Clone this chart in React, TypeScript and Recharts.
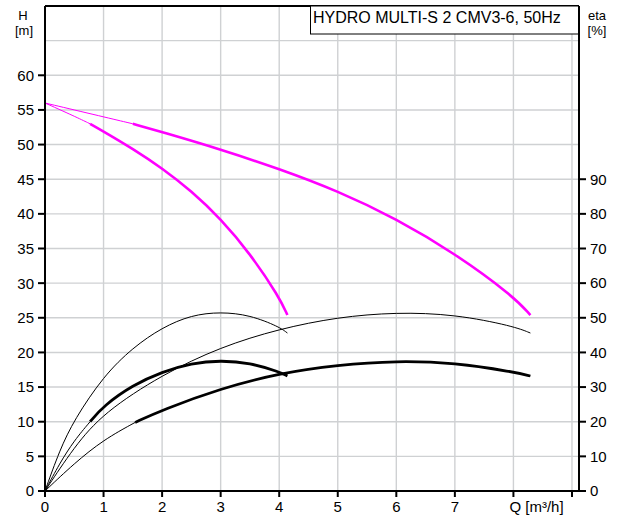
import React from 'react';
import { ComposedChart, Line, XAxis, YAxis, CartesianGrid, ReferenceLine } from 'recharts';

const FONT = '"Liberation Sans", Arial, Helvetica, sans-serif';
const MAGENTA = '#ff00ff';

// axis ticks
const qTicks = [0, 1, 2, 3, 4, 5, 6, 7, 8, 9];
const hTicks = [0, 5, 10, 15, 20, 25, 30, 35, 40, 45, 50, 55, 60, 65, 70];
const etaTicks = [0, 10, 20, 30, 40, 50, 60, 70, 80, 90];

// head H [m], one pump
const head1Q = [0, 0.5, 0.77, 1, 1.5, 2, 2.5, 3, 3.5, 4, 4.14];
const head1H = [56, 54.1, 53.0, 51.9, 49.4, 46.6, 43.3, 39.3, 34.3, 28.0, 25.4];
// head H [m], two pumps
const head2Q = [0, 1, 1.5, 2, 3, 4, 5, 6, 7, 8, 8.29];
const head2H = [56, 54.0, 53.0, 51.8, 49.3, 46.5, 43.3, 39.3, 34.3, 28.1, 25.4];

// eta [%], pump, one and two pumps (thin)
const eta1Q = [0, 0.25, 0.5, 1, 1.5, 2, 2.5, 3, 3.5, 4, 4.14];
const eta1 = [0, 11.8, 20.6, 33.2, 41.4, 47.2, 50.8, 51.7, 50.8, 47.4, 45.6];
const eta2Q = [0, 0.5, 1, 2, 3, 4, 5, 6, 7, 8, 8.29];
const eta2 = [0, 12.8, 22.6, 33.6, 41.6, 46.8, 50.2, 51.6, 51, 47.6, 45.6];

// eta [%], total, one and two pumps (thick part = operating range)
const etaTot1Q = [0, 0.25, 0.5, 0.77, 1, 1.5, 2, 2.5, 3, 3.5, 4, 4.14];
const etaTot1 = [0, 8, 14.6, 20, 24.6, 30.6, 34.4, 36.9, 37.7, 37, 34.4, 33.2];
const etaTot2Q = [0, 0.5, 1, 1.54, 2, 3, 4, 5, 6, 7, 8, 8.29];
const etaTot2 = [0, 8, 14.8, 19.8, 23.4, 29.6, 34, 36.4, 37.6, 37, 34.4, 33.2];

type Curve = { id: string; q: number[]; v: number[]; axis: string; color: string; from: number | null };

const curves: Curve[] = [
  { id: 'head1', q: head1Q, v: head1H, axis: 'h', color: MAGENTA, from: 0.77 },
  { id: 'head2', q: head2Q, v: head2H, axis: 'h', color: MAGENTA, from: 1.5 },
  { id: 'eta1', q: eta1Q, v: eta1, axis: 'eta', color: '#000', from: null },
  { id: 'eta2', q: eta2Q, v: eta2, axis: 'eta', color: '#000', from: null },
  { id: 'etaTot1', q: etaTot1Q, v: etaTot1, axis: 'eta', color: '#000', from: 0.77 },
  { id: 'etaTot2', q: etaTot2Q, v: etaTot2, axis: 'eta', color: '#000', from: 1.54 },
];

const HTick = (props: any) => {
  const { x, y, payload } = props;
  if (payload.value > 60) return <g />;
  return (
    <g>
      <line x1={x + 4} x2={x + 11} y1={y} y2={y} stroke="#000" strokeWidth={2} />
      <text x={x} y={y} dy="0.36em" textAnchor="end" fontSize={15} fill="#000" fontFamily={FONT}>
        {payload.value}
      </text>
    </g>
  );
};

const QTick = (props: any) => {
  const { x, y, payload } = props;
  if (payload.value === 9) return <g />;
  const isUnit = payload.value === 8;
  return (
    <text
      x={isUnit ? x - 4 : x}
      y={y}
      dy="0.71em"
      textAnchor={isUnit ? 'start' : 'middle'}
      fontSize={15}
      fill="#000"
      fontFamily={FONT}
    >
      {isUnit ? 'Q [m³/h]' : payload.value}
    </text>
  );
};

export default function App() {
  const lines: React.ReactNode[] = [];
  curves.forEach((c) => {
    const pts = c.q.map((q, i) => ({ q, v: c.v[i] }));
    const thin = c.from === null ? pts : pts.filter((p) => p.q <= c.from!);
    lines.push(
      <Line
        key={c.id + '-thin'}
        data={thin}
        dataKey="v"
        yAxisId={c.axis}
        type="basis"
        stroke={c.color}
        strokeWidth={1}
        dot={false}
        activeDot={false}
        isAnimationActive={false}
      />
    );
    if (c.from !== null) {
      lines.push(
        <Line
          key={c.id + '-thick'}
          data={pts.filter((p) => p.q >= c.from!)}
          dataKey="v"
          yAxisId={c.axis}
          type="basis"
          stroke={c.color}
          strokeWidth={c.axis === 'h' ? 2.6 : 2.8}
          dot={false}
          activeDot={false}
          isAnimationActive={false}
        />
      );
    }
  });

  return (
    <div style={{ position: 'absolute', left: 0, top: 0, width: 624, height: 518, background: '#fff' }}>
      <ComposedChart width={624} height={518} margin={{ top: 6, right: 5, left: 5, bottom: 0 }}>
        <CartesianGrid yAxisId="h" stroke="#cfd1d3" strokeWidth={1.4} />
        <XAxis
          dataKey="q"
          type="number"
          domain={[0, 9.12]}
          ticks={qTicks}
          height={27}
          allowDataOverflow
          axisLine={{ stroke: '#000', strokeWidth: 2 }}
          tickLine={{ stroke: '#000', strokeWidth: 2 }}
          tickSize={6}
          tickMargin={4}
          tick={<QTick />}
        />
        <YAxis
          yAxisId="h"
          type="number"
          domain={[0, 70]}
          ticks={hTicks}
          width={40}
          allowDataOverflow
          axisLine={{ stroke: '#000', strokeWidth: 2 }}
          tickLine={false}
          tickSize={7}
          tickMargin={4}
          tick={<HTick />}
        />
        <YAxis
          yAxisId="eta"
          orientation="right"
          type="number"
          domain={[0, 140]}
          ticks={etaTicks}
          width={40}
          allowDataOverflow
          axisLine={{ stroke: '#000', strokeWidth: 2 }}
          tickLine={{ stroke: '#000', strokeWidth: 2 }}
          tickSize={7}
          tickMargin={4}
          tick={{ fill: '#000', fontSize: 15, fontFamily: FONT }}
        />
        <ReferenceLine yAxisId="h" y={70} stroke="#000" strokeWidth={2} />
        {lines}
      </ComposedChart>
      <svg
        width={624}
        height={518}
        style={{ position: 'absolute', left: 0, top: 0, pointerEvents: 'none' }}
        fontFamily={FONT}
      >
        <text x={23} y={19.5} textAnchor="middle" fontSize={13} fill="#000">H</text>
        <text x={24} y={34.5} textAnchor="middle" fontSize={13} fill="#000">[m]</text>
        <text x={597} y={20} textAnchor="middle" fontSize={13} fill="#000">eta</text>
        <text x={597} y={35} textAnchor="middle" fontSize={13} fill="#000">[%]</text>
        <rect x={310.5} y={6} width={268} height={28} fill="#fff" stroke="#000" strokeWidth={1} />
        <text x={313} y={22.5} fontSize={16} fill="#000">HYDRO MULTI-S 2 CMV3-6, 50Hz</text>
      </svg>
    </div>
  );
}
